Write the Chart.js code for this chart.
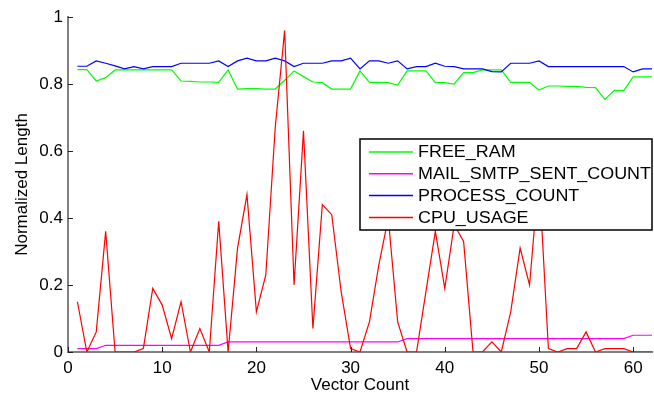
<!DOCTYPE html>
<html>
<head>
<meta charset="utf-8">
<script src="https://cdn.jsdelivr.net/npm/chart.js@4.4.1/dist/chart.umd.min.js"></script>
<style>
  html, body { margin: 0; padding: 0; background: #fff; }
  #chart { display: block; }
</style>
</head>
<body>
<canvas id="chart" width="654" height="399"></canvas>
<script>
// ── DATA ───────────────────────────────────────────────────────────────────
const vectorCount = [1,2,3,4,5,6,7,8,9,10,11,12,13,14,15,16,17,18,19,20,21,22,23,24,25,26,27,28,29,30,
  31,32,33,34,35,36,37,38,39,40,41,42,43,44,45,46,47,48,49,50,51,52,53,54,55,56,57,58,59,60,61,62];

const freeRam = [0.843,0.843,0.809,0.819,0.842,0.842,0.842,0.842,0.842,0.842,0.842,0.809,0.808,0.806,0.806,
  0.805,0.842,0.785,0.786,0.786,0.785,0.785,0.811,0.839,0.822,0.806,0.804,0.785,0.785,0.785,0.839,0.805,
  0.805,0.804,0.797,0.839,0.839,0.839,0.804,0.804,0.800,0.834,0.834,0.842,0.842,0.842,0.805,0.805,0.805,
  0.782,0.794,0.794,0.793,0.793,0.790,0.789,0.754,0.781,0.780,0.821,0.821,0.821];

const mailSent = [0.01,0.01,0.01,0.02,0.02,0.02,0.02,0.02,0.02,0.02,0.02,0.02,0.02,0.02,0.02,0.02,
  0.03,0.03,0.03,0.03,0.03,0.03,0.03,0.03,0.03,0.03,0.03,0.03,0.03,0.03,0.03,0.03,0.03,0.03,0.03,
  0.04,0.04,0.04,0.04,0.04,0.04,0.04,0.04,0.04,0.04,0.04,0.04,0.04,0.04,0.04,0.04,0.04,0.04,0.04,0.04,
  0.04,0.04,0.04,0.04,0.05,0.05,0.05];

const processCount = [0.853,0.853,0.869,0.862,0.854,0.845,0.852,0.845,0.852,0.852,0.852,0.862,0.862,0.862,
  0.862,0.869,0.852,0.869,0.877,0.869,0.869,0.877,0.869,0.852,0.862,0.862,0.862,0.869,0.869,0.877,0.845,
  0.869,0.869,0.862,0.869,0.845,0.852,0.852,0.862,0.853,0.852,0.845,0.845,0.845,0.837,0.836,0.862,0.862,
  0.862,0.869,0.852,0.852,0.852,0.852,0.852,0.852,0.852,0.852,0.852,0.836,0.845,0.845];

const cpuUsage = [0.15,0,0.06,0.36,0,0,0,0.01,0.19,0.14,0.04,0.15,0,0.07,0,0.39,0,0.31,0.47,0.12,
  0.23,0.67,0.96,0.20,0.66,0.07,0.44,0.41,0.18,0.01,0,0.09,0.26,0.40,0.09,0,0,0.18,0.36,0.19,
  0.38,0.33,0,0,0.03,0,0.12,0.31,0.20,0.53,0.01,0,0.01,0.01,0.06,0,0.01,0.01,0.01,0,0,0];

const seriesNames = ['FREE_RAM', 'MAIL_SMTP_SENT_COUNT', 'PROCESS_COUNT', 'CPU_USAGE'];
const seriesColors = ['#00ff00', '#ff00ff', '#0000ff', '#ff0000'];
const xTicks = [0, 10, 20, 30, 40, 50, 60];
const yTicks = [0, 0.2, 0.4, 0.6, 0.8, 1];

const FONT = "'Liberation Sans', Arial, sans-serif";
const AXIS_GRAY = '#808080';

const pts = ys => ys.map((y, i) => ({ x: vectorCount[i], y }));

// ── PLUGINS ────────────────────────────────────────────────────────────────
// inward tick marks, matlab style
const innerTicks = {
  id: 'innerTicks',
  afterDatasetsDraw(chart) {
    const { ctx, chartArea: a, scales: { x, y } } = chart;
    ctx.save();
    ctx.strokeStyle = '#222';
    ctx.lineWidth = 1;
    ctx.beginPath();
    yTicks.forEach(v => {
      const py = Math.round(y.getPixelForValue(v)) + 0.5;
      ctx.moveTo(a.left, py); ctx.lineTo(a.left + 5, py);
    });
    xTicks.forEach(v => {
      const px = Math.round(x.getPixelForValue(v)) + 0.5;
      ctx.moveTo(px, a.bottom); ctx.lineTo(px, a.bottom - 5);
    });
    ctx.stroke();
    ctx.restore();
  }
};

// boxed legend inside the plot
const boxLegend = {
  id: 'boxLegend',
  afterDraw(chart) {
    const { ctx } = chart;
    const bx = 360, by = 139, bw = 292, bh = 91;
    ctx.save();
    ctx.fillStyle = '#fff';
    ctx.fillRect(bx, by, bw, bh);
    ctx.strokeStyle = '#000';
    ctx.lineWidth = 1.5;
    ctx.strokeRect(bx, by, bw, bh);
    ctx.font = '16px ' + FONT;
    ctx.textBaseline = 'middle';
    ctx.fillStyle = '#000';
    chart.data.datasets.forEach((ds, i) => {
      const ly = by + 13 + i * 21.8;
      ctx.strokeStyle = ds.borderColor;
      ctx.lineWidth = 1.5;
      ctx.beginPath();
      ctx.moveTo(bx + 9, ly); ctx.lineTo(bx + 53, ly);
      ctx.stroke();
      // the reference text is a bit wide, stretch it a little
      ctx.save();
      ctx.translate(bx + 58, ly + 1);
      ctx.scale(1.12, 1);
      ctx.fillText(ds.label, 0, 0);
      ctx.restore();
    });
    ctx.restore();
  }
};

// ── CHART ──────────────────────────────────────────────────────────────────
const seriesData = [freeRam, mailSent, processCount, cpuUsage];

new Chart(document.getElementById('chart'), {
  type: 'line',
  data: {
    datasets: seriesData.map((d, i) => ({
      label: seriesNames[i],
      data: pts(d),
      borderColor: seriesColors[i],
      backgroundColor: seriesColors[i],
      borderWidth: 1.2,
      pointRadius: 0,
      tension: 0,
      fill: false,
      order: seriesData.length - i,
    }))
  },
  options: {
    responsive: false, animation: false, devicePixelRatio: 1,
    layout: { padding: { top: 17, right: 2, left: 0, bottom: 0 } },
    plugins: { legend: { display: false }, tooltip: { enabled: false } },
    scales: {
      x: {
        type: 'linear', min: 0, max: 62,
        afterBuildTicks: s => { s.ticks = xTicks.map(v => ({ value: v })); },
        afterFit: s => { s.height = 47; },
        grid: { display: false, drawTicks: false },
        border: { display: true, color: AXIS_GRAY, width: 2 },
        ticks: { color: '#000', padding: 6, maxRotation: 0, font: { family: FONT, size: 17 } },
        title: { display: true, text: 'Vector Count', color: '#000',
          padding: { top: 0, bottom: 3 }, font: { family: FONT, size: 17 } }
      },
      y: {
        type: 'linear', min: 0, max: 1,
        afterBuildTicks: s => { s.ticks = yTicks.map(v => ({ value: v })); },
        afterFit: s => { s.width = 68; },
        grid: { display: false, drawTicks: false },
        border: { display: true, color: AXIS_GRAY, width: 2 },
        ticks: { color: '#000', padding: 5, font: { family: FONT, size: 17 },
          callback: v => String(+v.toFixed(1)) },
        title: { display: true, text: 'Normalized Length', color: '#000',
          padding: { top: 12, bottom: 0 }, font: { family: FONT, size: 17 } }
      }
    }
  },
  plugins: [innerTicks, boxLegend]
});
</script>
</body>
</html>
